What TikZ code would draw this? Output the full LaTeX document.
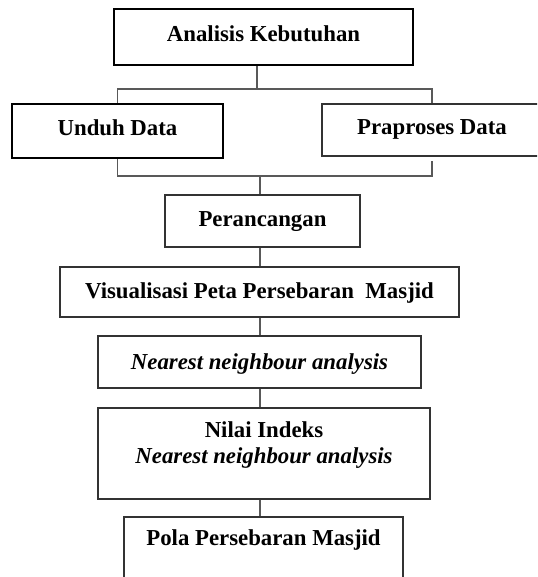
\documentclass[tikz,border=0pt]{standalone}
\usepackage{fontspec}
\setmainfont{Liberation Serif}

\tikzstyle{box}=[draw=black!80,line width=1.1pt,rectangle,inner sep=0pt,align=center,text height=16pt,text depth=7pt,font=\fontsize{22.8}{26}\selectfont\bfseries]
\tikzstyle{thickbox}=[box,draw=black,line width=2.4pt]
\tikzstyle{link}=[draw=black!65,line width=1.1pt,-]

\begin{document}
\begin{tikzpicture}[x=1pt, y=-1pt]
    \clip (0,0) rectangle (537,577);
    \useasboundingbox (0,0) rectangle (537,577);
    % First we draw the boxes
    \node[thickbox, minimum width=299, minimum height=56] (anal) at (263.5,37) {Analisis Kebutuhan};
    \node[thickbox, minimum width=211, minimum height=54] (unduh) at (117.5,131) {Unduh Data};
    \node[box, minimum width=220, minimum height=52] (prap) at (432,130) {Praproses Data};
    \node[box, minimum width=195, minimum height=52, text depth=5pt] (peran) at (262.5,221) {Perancangan};
    \node[box, minimum width=399, minimum height=50, text depth=4pt] (visual) at (259.5,292) {Visualisasi Peta Persebaran\ \ Masjid};
    \node[box, minimum width=323, minimum height=52, text depth=1pt] (nna) at (259.5,362) {\textit{Nearest neighbour analysis}};
    \node[box, minimum width=332, minimum height=91, text height=, text depth=] (nilai) at (264,453.5) {Nilai Indeks\\\textit{Nearest neighbour analysis}\rule[-22pt]{0pt}{0pt}};
    \node[box, minimum width=279, minimum height=93, text height=, text depth=] (pola) at (263.5,563.5) {Pola Persebaran Masjid\rule[-52pt]{0pt}{0pt}};
    % Junctions of the branches
    \coordinate (split) at (257,89);
    \coordinate (join) at (260,176);
    % Connect boxes with lines
    \path[link] (anal.south -| split) -- (split);
    \path[link] (unduh.north) |- (split) -| (prap.north);
    \path[link] (unduh.south) |- (join) -| ([yshift=-4pt]prap.south);
    \path[link] (join) -- (peran.north -| join);
    \foreach \source/ \dest in {peran/visual,visual/nna,nna/nilai,nilai/pola}
        \path[link] (\source.south -| join) -- (\dest.north -| join);
\end{tikzpicture}
\end{document}
